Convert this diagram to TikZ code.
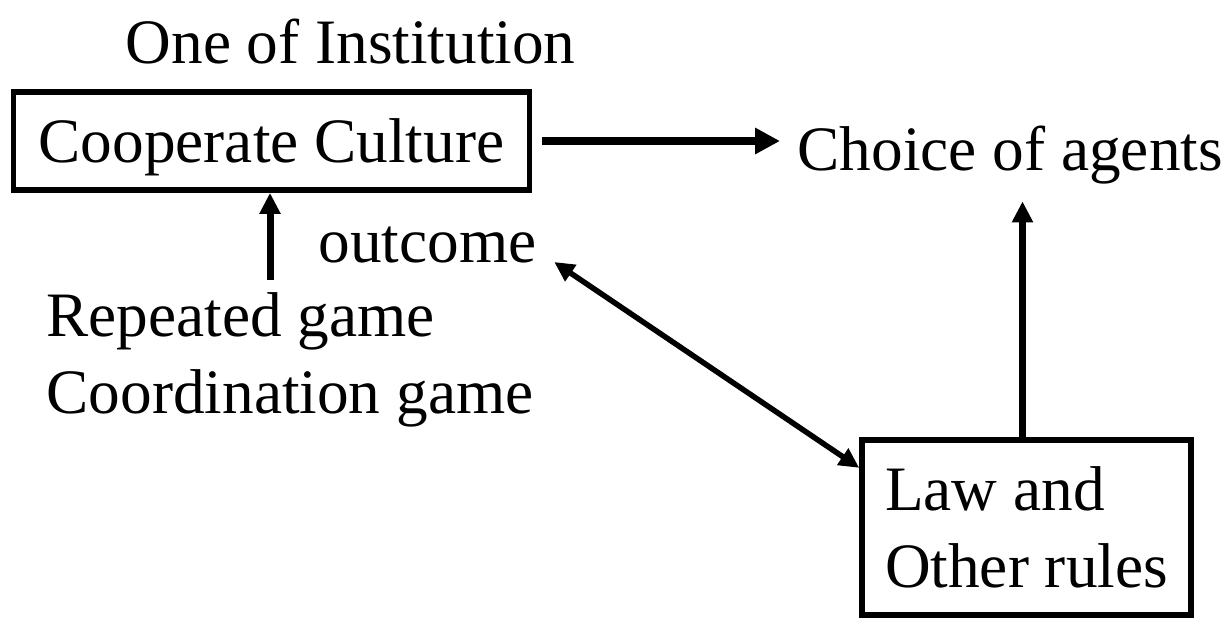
\documentclass[tikz,border=0pt]{standalone}
\usepackage{fontspec}
\setmainfont{Liberation Serif}
\usepackage{tikz}
\usetikzlibrary{
    arrows.meta,
    positioning,
    calc
}

\begin{document}
\fontsize{18}{21.8}\selectfont
\begin{tikzpicture}[
    box/.style={
        rectangle,
        draw=black,
        line width=0.057cm,
        inner sep=0pt
    },
    label/.style={
        inner sep=0.17cm
    },
    arrow/.style={draw, line width=0.065cm, -{Triangle[length=0.21cm,width=0.2cm]}},
    dblarrow/.style={draw, line width=0.055cm, {Triangle[length=0.2cm,width=0.19cm]}-{Triangle[length=0.2cm,width=0.19cm]}}
]
\useasboundingbox (0,0) rectangle (12.32,-6.17);

% Title
\node[label, anchor=base west] (title) at (1.08, -0.63) {One of Institution};

% Culture box
\node[box, minimum width=5.16cm, minimum height=0.98cm, text depth=0pt] (culture) at (2.715, -1.41) {Cooperate Culture};

% Choice
\node[label, anchor=base west] (choice) at (7.80, -1.70) {Choice of agents};

% Outcome and games
\node[label, anchor=base west] (outcome) at (3.01, -2.62) {outcome};
\node[label, anchor=west, align=left] (games) at (0.29, -3.60) {Repeated game\\Coordination game};
\coordinate (gamestop) at (2.70, -2.80);

% Law box
\node[box, align=left, inner xsep=0.23cm, inner ysep=0.27cm] (law) at (10.265, -5.275) {Law and\\Other rules};

% Connect
\draw[arrow, line width=0.07cm] (gamestop) -- (gamestop |- culture.south);
\draw[arrow, line width=0.085cm, -{Triangle[length=0.25cm,width=0.25cm]}, shorten <=0.1cm]
    (culture.east) -- (culture.east -| choice.west);
\draw[arrow] ([xshift=-0.04cm]law.north) -- ([xshift=-0.04cm]law.north |- choice.south);
\draw[dblarrow] (outcome.base east) -- ($(law.north west)!0.17!(law.south west)$);

\end{tikzpicture}
\end{document}
